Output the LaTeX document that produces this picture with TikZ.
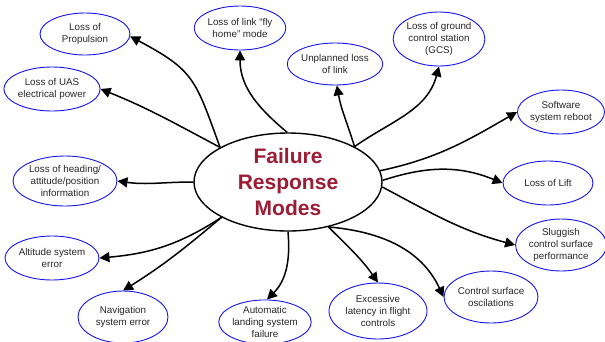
\documentclass[tikz,border=0pt]{standalone}
\usepackage{fontspec}
\setmainfont{Liberation Sans}
\usetikzlibrary{shapes.geometric,arrows.meta}
\definecolor{titlered}{RGB}{155,28,52}
\definecolor{leafblue}{RGB}{20,20,240}
\begin{document}
\begin{tikzpicture}[x=1pt,y=1pt,
 leaf/.style={ellipse, draw=leafblue, line width=0.9pt, inner sep=0pt, align=center,
   font=\fontsize{9.8}{12}\selectfont, text=black!85},
 hub/.style={ellipse, draw=black, line width=1.4pt, inner sep=0pt,
   minimum width=188pt, minimum height=98pt, align=center,
   font=\fontsize{21}{26}\selectfont\bfseries, text=titlered},
 link/.style={line width=1.5pt, -{Triangle[length=10pt,width=10pt]}}]
\useasboundingbox (0,0) rectangle (605,-341);
\node[hub] (hub) at (288,-182) {Failure\\Response\\Modes};
\node[leaf, minimum width=90pt, minimum height=42pt] (prop) at (85,-34) {Loss of\\Propulsion};
\node[leaf, minimum width=90pt, minimum height=44pt] (uas) at (52,-89) {Loss of UAS\\electrical power};
\node[leaf, minimum width=90pt, minimum height=44pt] (fly) at (240,-28) {Loss of link “fly\\home” mode};
\node[leaf, minimum width=90pt, minimum height=42pt] (unpl) at (335,-64) {Unplanned loss\\of link};
\node[leaf, minimum width=90pt, minimum height=54pt] (gcs) at (439,-39) {Loss of ground\\control station\\(GCS)};
\node[leaf, minimum width=86pt, minimum height=44pt] (soft) at (561,-112) {Software\\system reboot};
\node[leaf, minimum width=90pt, minimum height=44pt] (lift) at (548,-183) {Loss of Lift};
\node[leaf, minimum width=88pt, minimum height=52pt] (slug) at (561,-245) {Sluggish\\control surface\\performance};
\node[leaf, minimum width=90pt, minimum height=52pt] (osc) at (491,-297) {Control surface\\oscilations};
\node[leaf, minimum width=98pt, minimum height=56pt] (lat) at (378,-311) {Excessive\\latency in flight\\controls};
\node[leaf, minimum width=88pt, minimum height=42pt] (auto) at (265,-322) {Automatic\\landing system\\failure};
\node[leaf, minimum width=90pt, minimum height=52pt] (nav) at (123,-317) {Navigation\\system error};
\node[leaf, minimum width=90pt, minimum height=44pt] (alt) at (52,-258) {Altitude system\\error};
\node[leaf, minimum width=104pt, minimum height=50pt] (head) at (65,-181) {Loss of heading/\\attitude/position\\information};
\draw[link] (hub.153) to[out=110,in=-28,looseness=1.3] (prop.-3);
\draw[link] (hub.153) to[out=152,in=-22] (uas.0);
\draw[link] (hub.91) to[out=140,in=-90] (fly.-90);
\draw[link] (hub.28) to[out=107,in=-80] (unpl.-85);
\draw[link] (hub.28) to[out=35,in=-105] (gcs.-90);
\draw[link] (hub.7) to[out=12,in=-150] (soft.180);
\draw[link] (hub.1) to[out=18,in=158] (lift.180);
\draw[link] (hub.-3) to[out=-28,in=165] (slug.180);
\draw[link] (hub.312) to[out=-5,in=115] (osc.180);
\draw[link] (hub.312) to[out=-45,in=125] (lat.90);
\draw[link] (hub.270) to[out=-85,in=45] (auto.85);
\draw[link] (hub.208) to[out=220,in=32] (nav.90);
\draw[link] (hub.208) to[out=213,in=5] (alt.0);
\draw[link] (hub.180) to[out=180,in=-8] (head.0);
\end{tikzpicture}
\end{document}
